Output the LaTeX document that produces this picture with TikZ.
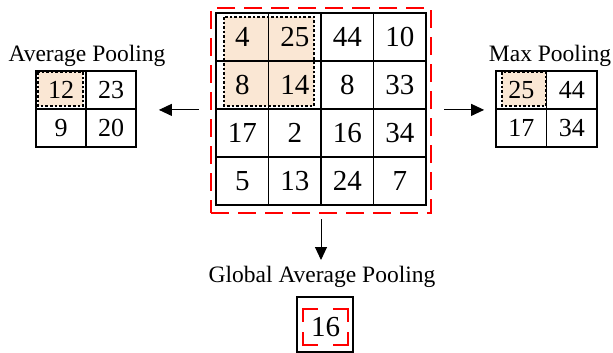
\documentclass[tikz,border=0pt]{standalone}
\usepackage{fontspec}
\setmainfont{Liberation Serif}
\usetikzlibrary{arrows.meta}
\definecolor{peach}{RGB}{250,231,212}
\definecolor{rdash}{RGB}{255,0,0}
\begin{document}
\begin{tikzpicture}[x=1pt,y=-1pt,
  bigcell/.style={draw, line width=1.8pt, minimum width=52.5pt, minimum height=48pt, inner sep=0pt, font=\fontsize{29}{29}\selectfont},
  avgcell/.style={draw, line width=1.8pt, minimum width=50pt, minimum height=38pt, inner sep=0pt, font=\fontsize{26}{26}\selectfont},
  maxcell/.style={draw, line width=1.8pt, minimum width=50.5pt, minimum height=38pt, inner sep=0pt, font=\fontsize{26}{26}\selectfont},
  dotbox/.style={draw, line width=2.3pt, dash pattern=on 2.6pt off 2pt},
  redbox/.style={draw=rdash, line width=2.5pt, dash pattern=on 18pt off 9pt},
  redline/.style={draw=rdash, line width=2.5pt},
  lbl/.style={anchor=base, inner sep=0pt, font=\fontsize{23.5}{23.5}\selectfont},
  arr/.style={-{Triangle[length=13pt,width=12pt]}, line width=1pt}
]
\useasboundingbox (0,0) rectangle (613,353);

% peach fills
\fill[peach] (224,17) rectangle (314,106);
\fill[peach] (38,72) rectangle (83,106);
\fill[peach] (502,72) rectangle (546,106);

% main grid
\foreach \row [count=\i from 0] in {{4,25,44,10},{8,14,8,33},{17,2,16,34},{5,13,24,7}}{
  \foreach \v [count=\j from 0] in \row {
    \node[bigcell] (m-\i-\j) at ({216+52.5*(\j+0.5)},{13+48*(\i+0.5)}) {\v};
  }
}
% average pooling grid
\foreach \row [count=\i from 0] in {{12,23},{9,20}}{
  \foreach \v [count=\j from 0] in \row {
    \node[avgcell] (a-\i-\j) at ({36+50*(\j+0.5)},{71+38*(\i+0.5)}) {\v};
  }
}
% max pooling grid
\foreach \row [count=\i from 0] in {{25,44},{17,34}}{
  \foreach \v [count=\j from 0] in \row {
    \node[maxcell] (x-\i-\j) at ({496+50.5*(\j+0.5)},{71+38*(\i+0.5)}) {\v};
  }
}

% dotted windows
\draw[dotbox] (224,17) rectangle (314,106);
\draw[dotbox] (38,72) rectangle (83,106);
\draw[dotbox] (502,72) rectangle (546,106);

% red dashed frame
\node[redbox, minimum width=220pt, minimum height=205pt, inner sep=0pt] (big) at (321,110.5) {};

% labels
\node[lbl] (lavg) at (87,62) {Average Pooling};
\node[lbl] (lmax) at (550,62) {Max Pooling};
\node[lbl] (lglob) at (322,282) {Global Average Pooling};

% global result
\node[draw, line width=1.3pt, minimum width=56pt, minimum height=55pt, inner sep=0pt] (gbox) at (325,324.5) {};
\node[minimum width=45pt, minimum height=36pt, inner sep=0pt, font=\fontsize{29}{29}\selectfont] (g16) at (325.5,327) {16};
\draw[redline] ([xshift=15pt]g16.north west) -- (g16.north west) -- ([yshift=-13pt]g16.north west);
\draw[redline] ([xshift=-15pt]g16.north east) -- (g16.north east) -- ([yshift=-13pt]g16.north east);
\draw[redline] ([xshift=15pt]g16.south west) -- (g16.south west) -- ([yshift=13pt]g16.south west);
\draw[redline] ([xshift=-15pt]g16.south east) -- (g16.south east) -- ([yshift=13pt]g16.south east);

% arrows
\draw[arr, shorten <=11pt, shorten >=22pt] (big.west |- m-1-0.south) -- (a-0-1.south east);
\draw[arr, shorten <=12pt, shorten >=11pt] (big.east |- m-1-3.south) -- (x-0-0.south west);
\coordinate (dtip) at (321,260);
\draw[arr, shorten <=5pt] (big.south) -- (dtip);
\end{tikzpicture}
\end{document}
